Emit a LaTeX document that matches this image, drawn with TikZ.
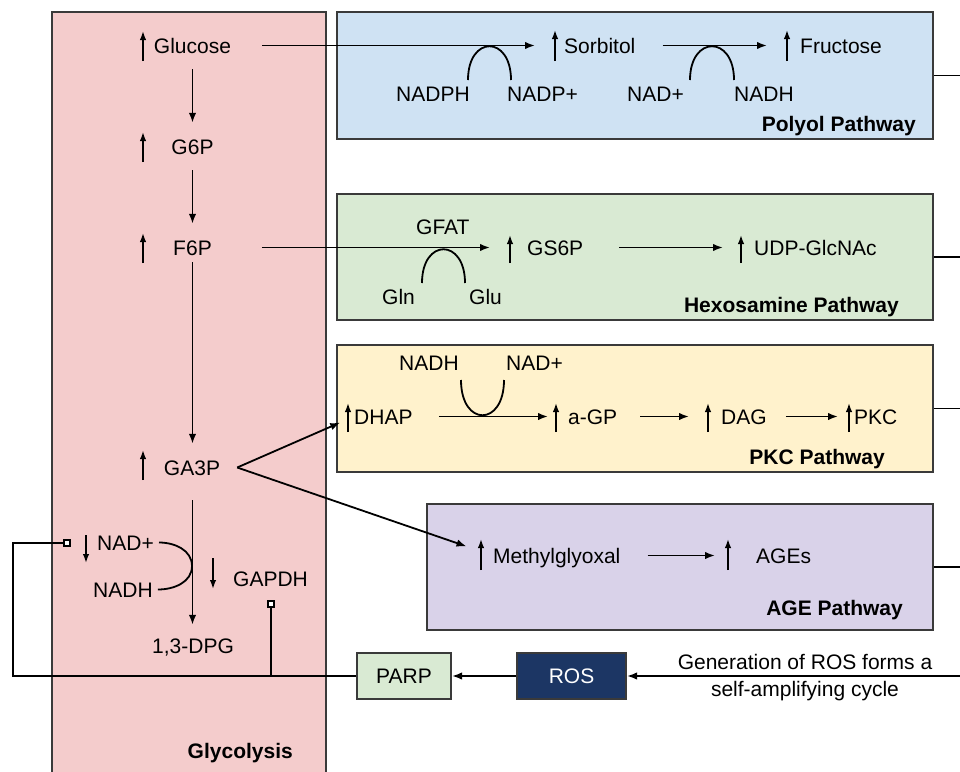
\documentclass[tikz,border=0pt]{standalone}
\usepackage{fontspec}
\setmainfont{Liberation Sans}
\usetikzlibrary{arrows.meta}
\definecolor{glycpink}{HTML}{F4CCCC}
\definecolor{polyblue}{HTML}{CFE2F3}
\definecolor{hexgreen}{HTML}{D9EAD3}
\definecolor{pkcyellow}{HTML}{FFF2CC}
\definecolor{agepurple}{HTML}{D9D2E9}
\definecolor{rosnavy}{HTML}{1C3664}
\definecolor{boxline}{HTML}{3A3A3A}
\newcommand\fsz{\fontsize{21}{25}\selectfont}
\tikzset{
  lbl/.style={inner sep=0pt, font=\fsz, text height=15pt, text depth=0pt, anchor=base west},
  ctr/.style={lbl, anchor=base},
  ttl/.style={inner sep=0pt, font=\fsz\bfseries, anchor=base east},
  ln/.style={line width=1.8pt, draw=black},
  arr/.style={ln, -{Latex[length=10pt,width=7.5pt]}},
  uarr/.style={line width=1.7pt, -{Latex[length=9pt,width=6.5pt]}},
  pbox/.style={draw=boxline, line width=2pt, inner sep=0pt},
  sq/.style={draw=black, line width=1.3pt, fill=white, minimum size=6pt, inner sep=0pt},
}
\newcommand\uparr[3]{\draw[uarr] (#1,#3) -- (#1,#2);}
\newcommand\dnarr[3]{\draw[uarr] (#1,#2) -- (#1,#3);}
\begin{document}
\begin{tikzpicture}[x=1pt,y=-1pt]
\useasboundingbox (0,0) rectangle (960,771);
% pathway boxes
\node[pbox, fill=glycpink, minimum width=274pt, minimum height=800pt, anchor=north west] (glyc) at (51,11) {};
\node[pbox, fill=polyblue, minimum width=596pt, minimum height=127pt, anchor=north west] (polyol) at (336,11) {};
\node[pbox, fill=hexgreen, minimum width=596pt, minimum height=126pt, anchor=north west] (hexo) at (336,193) {};
\node[pbox, fill=pkcyellow, minimum width=596pt, minimum height=127pt, anchor=north west] (pkcbox) at (336,344) {};
\node[pbox, fill=agepurple, minimum width=506pt, minimum height=126pt, anchor=north west] (agebox) at (426,503) {};
\node[pbox, fill=hexgreen, minimum width=94pt, minimum height=46pt, font=\fsz] (parp) at (404,676) {PARP};
\node[pbox, fill=rosnavy, text=white, minimum width=109pt, minimum height=46pt, font=\fsz] (ros) at (571.5,676) {ROS};

% right-side lines
\draw[ln] (polyol.east) -- ++(30,0);
\draw[ln] (hexo.east) -- ++(30,0);
\draw[ln] (pkcbox.east) -- ++(30,0);
\draw[ln] (agebox.east) -- ++(30,0);

% titles
\node[ttl] (tpolyol) at (916,131) {Polyol Pathway};
\node[ttl] (thexo) at (899,312) {Hexosamine Pathway};
\node[ttl] (tpkc) at (885,464) {PKC Pathway};
\node[ttl] (tage) at (903,615) {AGE Pathway};
\node[ttl] (tglyc) at (293,758) {Glycolysis};

% glycolysis
\node[ctr] (glucose) at (192.5,53) {Glucose};
\node[ctr] (g6p) at (192.5,154) {G6P};
\node[ctr] (f6p) at (192.5,255) {F6P};
\node[ctr] (ga3p) at (192,475) {GA3P};
\node[ctr] (dpg) at (193,653) {1,3-DPG};
\node[lbl] (nadg) at (97,550) {NAD+};
\node[lbl] (nadhg) at (93,597) {NADH};
\node[lbl] (gapdh) at (233,586) {GAPDH};
\uparr{143}{31}{61}
\uparr{143}{132}{162}
\uparr{143}{233}{263}
\uparr{143}{450}{480}
\dnarr{86}{535}{563}
\dnarr{213}{558}{589}
\draw[arr, shorten <=16pt, shorten >=16pt] (glucose.south) -- (g6p.north);
\draw[arr, shorten <=16pt, shorten >=16pt] (g6p.south) -- (f6p.north);
\draw[arr, shorten <=7pt, shorten >=16pt] (f6p.south) -- (f6p.south |- ga3p.north);
\draw[arr, shorten <=25pt, shorten >=13pt] (ga3p.south -| f6p.south) -- (f6p.south |- dpg.north);
\coordinate (bulge) at (192,566);
\draw[ln] ([xshift=5pt]nadg.east) to[out=0,in=90] (bulge) to[out=-90,in=0] ([xshift=5pt]nadhg.east);

% polyol
\node[lbl] (sorbitol) at (564,53) {Sorbitol};
\node[lbl] (fructose) at (800,53) {Fructose};
\node[lbl] (nadph) at (396,101) {NADPH};
\node[lbl] (nadpp) at (507,101) {NADP+};
\node[lbl] (nadp2) at (627,101) {NAD+};
\node[lbl] (nadh2) at (734,101) {NADH};
\uparr{555}{30}{61}
\uparr{787}{30}{61}
\draw[arr, shorten <=31pt, shorten >=29pt] (glucose.east) -- (sorbitol.west);
\draw[arr, shorten <=27pt, shorten >=33pt] (sorbitol.east) -- (fructose.west);
\draw[ln] (468,80) .. controls (468,35) and (511,35) .. (511,80);
\draw[ln] (690,80) .. controls (690,35) and (734,35) .. (734,80);

% hexosamine
\node[lbl] (gfat) at (416,234.5) {GFAT};
\node[lbl] (gln) at (382,304.5) {Gln};
\node[lbl] (glu) at (469,304.5) {Glu};
\node[lbl] (gs6p) at (527,255) {GS6P};
\node[lbl] (udp) at (754,255) {UDP-GlcNAc};
\uparr{510}{235}{263}
\uparr{741}{235}{263}
\draw[arr, shorten <=50pt, shorten >=37pt] (f6p.east) -- (gs6p.west);
\draw[arr, shorten <=36pt, shorten >=31pt] (gs6p.east) -- (udp.west);
\draw[ln] (422,283) .. controls (422,238) and (465,238) .. (465,283);

% PKC
\node[lbl] (dhap) at (354,424) {DHAP};
\node[lbl] (nadh3) at (399,370) {NADH};
\node[lbl] (nadp3) at (506,370) {NAD+};
\node[lbl] (agp) at (568,424) {a-GP};
\node[lbl] (dag) at (721,424) {DAG};
\node[lbl] (pkc) at (854,424) {PKC};
\uparr{348}{403}{432}
\uparr{556}{403}{432}
\uparr{708}{403}{432}
\uparr{849}{403}{432}
\draw[arr, shorten <=26pt, shorten >=20pt] (dhap.east) -- (agp.west);
\draw[arr, shorten <=23pt, shorten >=32pt] (agp.east) -- (dag.west);
\draw[arr, shorten <=19pt, shorten >=16pt] (dag.east) -- (pkc.west);
\draw[ln] (461,380) .. controls (461,427) and (504,427) .. (504,380);

% AGE
\node[lbl] (mg) at (493,563) {Methylglyoxal};
\node[lbl] (ages) at (756,563) {AGEs};
\uparr{481}{539}{570}
\uparr{728}{539}{570}
\draw[arr, shorten <=27pt, shorten >=41pt] (mg.east) -- (ages.west);

% GA3P fork
\coordinate (fork) at ([xshift=17pt]ga3p.east);
\draw[arr, shorten >=15pt] (fork) -- (dhap.west);
\draw[arr, shorten >=28pt] (fork) -- (mg.west);

% ROS / PARP
\node[ctr] (gen1) at (805,669) {Generation of ROS forms a};
\node[ctr] (gen2) at (805,696) {self-amplifying cycle};
\coordinate (rin) at (962,676);
\draw[arr] (rin) -- (ros.east);
\draw[arr] (ros.west) -- (parp.east);

% inhibition lines
\node[sq] (inh1) at (67,543) {};
\node[sq] (inh2) at (271,604) {};
\coordinate (c1) at (13,676);
\coordinate (c2) at (13,543);
\draw[ln] (parp.west) -- (c1) -- (c2) -- (inh1.west);
\draw[ln] (inh2.south) -- (inh2.south |- parp.west);
\end{tikzpicture}
\end{document}
